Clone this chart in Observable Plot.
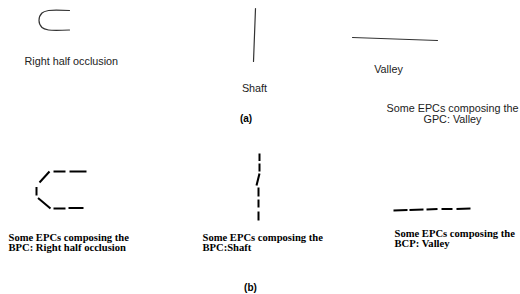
<!DOCTYPE html>
<html><head><meta charset="utf-8">
<script src="https://cdn.jsdelivr.net/npm/d3@7"></script>
<script src="https://cdn.jsdelivr.net/npm/@observablehq/plot@0.6"></script>
<style>body{margin:0;background:#fff}</style>
</head><body><div id="chart"></div>
<script>
// (a) geometric primitive contours (continuous)
const occlusionCurve = [[69,10],[48,10],[41.5,12.5],[38.5,20],[41.5,27],[48,29.5],[69,29.5]];
const shaftLine = [[255,8],[253,61]];
const valleyLine = [[352,37],[437,40]];
// (b) elementary primitive contours (segments x1,y1,x2,y2)
const occlusionDashes = [[53,171,65,171],[69,171,86,171],[49,171,39,182],[36,186.5,36,195],[37.5,197.5,50,208],[53,208,65,208],[68,207.5,83,207.5]];
const shaftDashes = [[259,153,259,160.5],[259,163,259,171],[259,173,256,185],[258,187,258,196],[258,199,258,207],[258,211,258,220]];
const valleyDashes = [[393,210,407,209.5],[409,209.5,423,209],[426,209,437,208.5],[441,208.5,452,208.5],[456,208.5,470,208]];
// labels: text, x, y, anchor
const sansLabels = [["Right half occlusion",24,61,"start"],["Shaft",254,88,"middle"],["Valley",388,69,"middle"],["Some EPCs composing the\nGPC: Valley",452,113.5,"middle"]];
const serifLabels = [["Some EPCs composing the\nBPC: Right half occlusion",8,242,"start"],["Some EPCs composing the\nBPC:Shaft",202,242,"start"],["Some EPCs composing the\nBCP: Valley",394,238,"start"]];
const panelLabels = [["(a)",245.5,118],["(b)",250,287]];

const toPts = a => a.map(([x,y]) => ({x,y}));
const toSegs = a => a.map(([x1,y1,x2,y2]) => ({x1,y1,x2,y2}));
const toLabels = a => a.map(([text,x,y,anchor]) => ({text,x,y,anchor}));

const chart = Plot.plot({
  width: 520, height: 294,
  margin: 0,
  x: {domain: [0,520], range: [0,520], axis: null},
  y: {domain: [0,294], range: [0,294], axis: null},
  style: {background: "#fff"},
  marks: [
    Plot.line(toPts(occlusionCurve), {x:"x", y:"y", curve:"catmull-rom", stroke:"#333", strokeWidth:1.2}),
    Plot.line(toPts(shaftLine), {x:"x", y:"y", stroke:"#333", strokeWidth:1.2}),
    Plot.line(toPts(valleyLine), {x:"x", y:"y", stroke:"#333", strokeWidth:1.2}),
    Plot.link(toSegs(occlusionDashes), {x1:"x1",y1:"y1",x2:"x2",y2:"y2", stroke:"#000", strokeWidth:2}),
    Plot.link(toSegs(shaftDashes), {x1:"x1",y1:"y1",x2:"x2",y2:"y2", stroke:"#000", strokeWidth:2}),
    Plot.link(toSegs(valleyDashes), {x1:"x1",y1:"y1",x2:"x2",y2:"y2", stroke:"#000", strokeWidth:2}),
    Plot.text(toLabels(sansLabels).filter(d=>d.anchor==="start"), {x:"x", y:"y", text:"text", textAnchor:"start", fontFamily:"Liberation Sans, Arial, sans-serif", fontSize:10.8, fill:"#222", lineHeight:1}),
    Plot.text(toLabels(sansLabels).filter(d=>d.anchor==="middle"), {x:"x", y:"y", text:"text", textAnchor:"middle", fontFamily:"Liberation Sans, Arial, sans-serif", fontSize:10.8, fill:"#222", lineHeight:1}),
    Plot.text(toLabels(serifLabels), {x:"x", y:"y", text:"text", textAnchor:"start", fontFamily:"Liberation Serif, Times New Roman, serif", fontWeight:"bold", fontSize:10.6, fill:"#000", lineHeight:0.95}),
    Plot.text(panelLabels.map(([text,x,y])=>({text,x,y})), {x:"x", y:"y", text:"text", textAnchor:"middle", fontFamily:"Liberation Sans, Arial, sans-serif", fontWeight:"bold", fontSize:10, fill:"#000"})
  ]
});
document.getElementById("chart").append(chart);
</script>
</body></html>
